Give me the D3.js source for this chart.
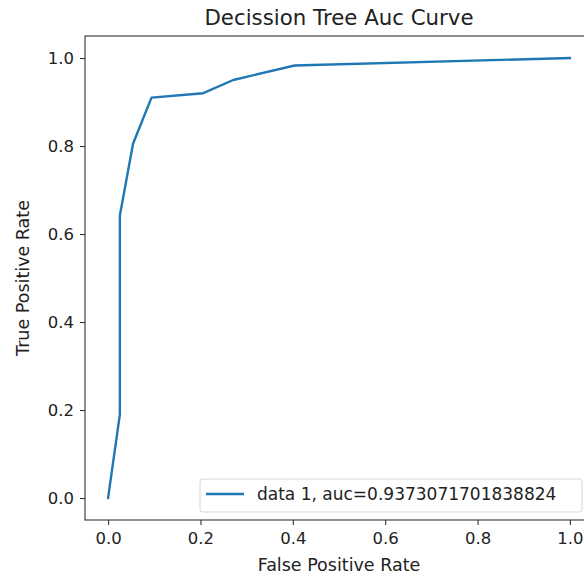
<!DOCTYPE html>
<html>
<head>
<meta charset="utf-8">
<script src="https://cdn.jsdelivr.net/npm/d3@7"></script>
<style>
  body { margin: 0; background: #fff; }
  svg { display: block; font-family: "DejaVu Sans", sans-serif; }
</style>
</head>
<body>
<div id="chart"></div>
<script>
// roc points
const fpr = [0, 0.0255, 0.0255, 0.054, 0.094, 0.206, 0.271, 0.404, 1.0];
const tpr = [0, 0.19, 0.642, 0.805, 0.910, 0.920, 0.950, 0.983, 1.0];
const xTicks = [0, 0.2, 0.4, 0.6, 0.8, 1.0];
const yTicks = [0, 0.2, 0.4, 0.6, 0.8, 1.0];
const legendLabel = "data 1, auc=0.9373071701838824";

function drawChart() {
    const width = 584;
    const height = 578;
    // axes box (right edge runs past the window like the reference)
    const left = 85, right = 593, top = 36, bottom = 520;

    var svg = d3.select("#chart")
        .append("svg")
        .attr("width", width)
        .attr("height", height)

    var x = d3.scaleLinear().domain([-0.05, 1.05]).range([left, right]);
    var y = d3.scaleLinear().domain([-0.05, 1.05]).range([bottom, top]);

    // the curve
    var pts = fpr.map(function(d, i){ return [d, tpr[i]]; });
    svg.append("path")
        .datum(pts)
        .attr("fill", "none")
        .attr("stroke", "#1f77b4")
        .attr("stroke-width", 2.4)
        .attr("stroke-linejoin", "round")
        .attr("stroke-linecap", "square")
        .attr("d", d3.line().x(function(d){return x(d[0]);}).y(function(d){return y(d[1]);}));

    // axes
    var xAxis = d3.axisBottom(x).tickValues(xTicks).tickFormat(d3.format(".1f")).tickSize(5).tickPadding(7);
    var yAxis = d3.axisLeft(y).tickValues(yTicks).tickFormat(d3.format(".1f")).tickSize(5).tickPadding(6);

    var gx = svg.append("g").attr("transform", "translate(0," + bottom + ")").call(xAxis);
    var gy = svg.append("g").attr("transform", "translate(" + left + ",0)").call(yAxis);
    [gx, gy].forEach(function(g){
        g.select(".domain").remove();
        g.selectAll("line").attr("stroke", "#333").attr("stroke-width", 1.1);
        g.selectAll("text").attr("fill", "#222").style("font-size", "16.5px").style("font-family", "DejaVu Sans");
    });

    // frame
    svg.append("rect")
        .attr("x", left).attr("y", top)
        .attr("width", right - left).attr("height", bottom - top)
        .attr("fill", "none")
        .attr("stroke", "#333")
        .attr("stroke-width", 1.1);

    // title and labels
    svg.append("text")
        .attr("x", (left + right) / 2).attr("y", 25)
        .attr("text-anchor", "middle")
        .style("font-size", "21.3px").attr("fill", "#222")
        .text("Decission Tree Auc Curve");

    svg.append("text")
        .attr("x", (left + right) / 2).attr("y", 571)
        .attr("text-anchor", "middle")
        .style("font-size", "17.5px").attr("fill", "#222")
        .text("False Positive Rate");

    svg.append("text")
        .attr("transform", "translate(29," + ((top + bottom) / 2) + ") rotate(-90)")
        .attr("text-anchor", "middle")
        .style("font-size", "17.5px").attr("fill", "#222")
        .text("True Positive Rate");

    // legend
    var lg = svg.append("g");
    lg.append("rect")
        .attr("x", 200).attr("y", 479)
        .attr("width", 382).attr("height", 33)
        .attr("rx", 3)
        .attr("fill", "#fff").attr("fill-opacity", 0.8)
        .attr("stroke", "#d6d6d6");
    lg.append("line")
        .attr("x1", 206).attr("x2", 244)
        .attr("y1", 494).attr("y2", 494)
        .attr("stroke", "#1f77b4").attr("stroke-width", 2.4);
    lg.append("text")
        .attr("x", 257).attr("y", 500)
        .style("font-size", "17px").attr("fill", "#222")
        .text(legendLabel);
}

drawChart();
</script>
</body>
</html>
